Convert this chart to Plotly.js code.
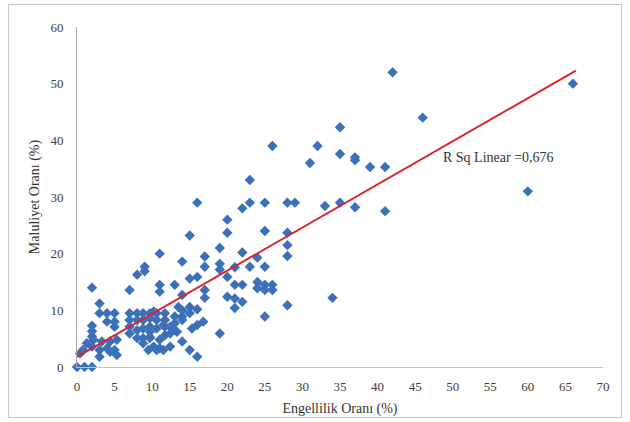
<!DOCTYPE html>
<html>
<head>
<meta charset="utf-8">
<script src="https://cdn.plot.ly/plotly-3.0.1.min.js"></script>
<style>
html,body{margin:0;padding:0;background:#fff;}
#wrap{position:relative;width:630px;height:422px;}
#chart{position:absolute;left:0;top:0;width:630px;height:422px;}
#frame{position:absolute;left:8px;top:4px;width:612px;height:412px;border:1px solid #c8c8c8;pointer-events:none;}
</style>
</head>
<body>
<div id="wrap"><div id="chart"></div><div id="frame"></div></div>
<script>
// Engellilik Oranı (%) values
var engellilik = [
66,60,42,46,35,32,31,35,37,37,39,41,
28,29,33,35,37,41,
28,28,28,34,28,
26,23,16,23,22,25,
20,15,20,25,
11,19,14,17,17,22,24,
19,19,21,23,25,
9,9,8,
15,16,20,
24,24,25,25,26,26,
21,22,21,22,21,25,
2,7,11,11,13,
17,17,20,14,
13.5,14,15,16,15,14,
10.6,10.6,11.7,11.7,11.7,11.7,13,13,13,14,16,15.3,16.8,19,
9.7,9.7,11,12.4,14,10.6,11.5,15,16,
3,3,4,5,2,2,2,4,5,5,1.3,2.2,3.3,4.4,5.3,3,4,5,4.4,0.4,0.8,5.3,2,3,
0,1,2,
7,8,8.8,9.7,10.2,
7,8,8.8,9.7,
7,7,8,8.8,9.7,10.6,11.5,
8,8.8,9.7,
10.2,11,
12.4,13.3,12.4,
8.8,9.5
];
// Maluliyet Oranı (%) values
var maluliyet = [
50,31,52,44,42.3,39,36,37.6,37,36.5,35.3,35.3,
29,29,28.4,29,28.2,27.5,
23.7,21.5,19.6,12.2,10.9,
39,33,29,29,28,29,
26,23.2,23.7,24,
20,21,18.6,19.5,17.7,20.2,19.3,
18.2,17.2,17.6,17.7,17.7,
17.7,16.9,16.3,
15.6,15.9,15.9,
15,13.9,14.5,13.6,14.5,13.6,
14.5,14.5,12.1,11.5,10.4,8.9,
14,13.6,14.5,13.3,14.5,
13.6,12.2,12.4,12.7,
10.6,10,10.6,10.2,9.5,8.9,
9.5,8.3,9.5,8.3,7.1,5.6,8.9,7.7,6.5,8.3,7.4,6.8,8,5.9,
6.2,5.1,4.8,3.6,4.5,3,3,3,1.8,
11.2,9.5,9.5,9.5,7.3,6.3,5.4,8,8,7.1,4.2,4.8,4.5,4.5,4.8,3,3.3,3,2.7,2.4,3,2.1,3.6,1.8,
0,0,0,
9.5,9.5,9.5,9.5,9.8,
8.3,8.3,8.3,8.6,
7.1,5.9,6.5,6.8,7.1,6.8,7.4,
5.1,5.1,5.3,
3.6,3.3,
7.1,6.2,5.9,
4.2,3
];
// Fit line endpoints
var fitX = [0, 66.4];
var fitY = [1.8, 52.3];
var xTicks = [0,5,10,15,20,25,30,35,40,45,50,55,60,65,70];
var yTicks = [0,10,20,30,40,50,60];
var rsqText = "R Sq Linear =0,676";

var serif = "'Liberation Serif', 'Times New Roman', serif";

var traces = [
  {
    x: engellilik, y: maluliyet, type: 'scatter', mode: 'markers',
    marker: {symbol: 'diamond', size: 8, color: '#3c70b8', line: {width: 0}},
    cliponaxis: false, hoverinfo: 'skip'
  },
  {
    x: fitX, y: fitY, type: 'scatter', mode: 'lines',
    line: {color: '#d8262a', width: 2}, hoverinfo: 'skip'
  }
];

var layout = {
  width: 630, height: 422,
  margin: {l: 77, r: 27, t: 27, b: 55},
  paper_bgcolor: '#ffffff', plot_bgcolor: '#ffffff',
  showlegend: false,
  font: {family: serif, size: 13, color: '#404040'},
  xaxis: {
    range: [0, 70], tickvals: xTicks, ticktext: xTicks.map(String),
    showgrid: false, zeroline: false, showline: true, linecolor: '#c4c4c4', linewidth: 1,
    ticks: '', ticklabelstandoff: 7,
    tickfont: {family: serif, size: 13, color: '#404040'},
    title: {text: 'Engellilik Oranı (%)', font: {family: serif, size: 14, color: '#333'}, standoff: 10},
    automargin: false
  },
  yaxis: {
    range: [0, 60], tickvals: yTicks, ticktext: yTicks.map(String),
    showgrid: false, zeroline: false, showline: true, linecolor: '#a8a8a8', linewidth: 1,
    ticks: '', ticklabelstandoff: 10,
    tickfont: {family: serif, size: 13, color: '#404040'},
    title: {text: 'Maluliyet Oranı (%)', font: {family: serif, size: 14, color: '#333'}, standoff: 7},
    automargin: false
  },
  annotations: [
    {x: 48.5, y: 37, xref: 'x', yref: 'y', text: rsqText, showarrow: false,
     xanchor: 'left', yanchor: 'middle', font: {family: serif, size: 14, color: '#333'}}
  ]
};

Plotly.newPlot('chart', traces, layout, {displayModeBar: false, staticPlot: true});
</script>
</body>
</html>
